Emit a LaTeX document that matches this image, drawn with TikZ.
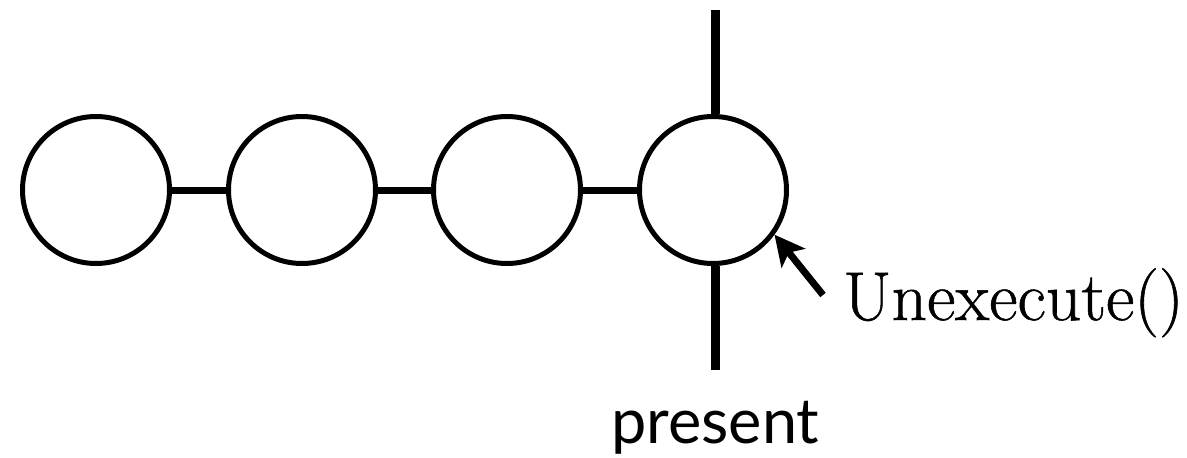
\documentclass[tikz,border=0pt]{standalone}
\usepackage{fontspec}
\newfontfamily\labelsans{Lato}
\newfontfamily\labelserif[FakeBold=0.8]{Latin Modern Roman}
\usetikzlibrary{arrows.meta}
\begin{document}
\begin{tikzpicture}[x=1pt,y=-1pt,
  state/.style={circle,draw,line width=5pt,minimum size=147pt,inner sep=0pt},
  link/.style={line width=7pt},
  pline/.style={line width=9pt},
  pointer/.style={line width=7pt,-{Stealth[length=30pt,width=30pt,inset=7pt]}},
  serifl/.style={inner sep=0pt,anchor=base west,font=\labelserif\fontsize{69}{69}\selectfont},
  sansl/.style={inner sep=0pt,anchor=base west,font=\labelsans\fontsize{63}{63}\selectfont}]
\useasboundingbox (0,0) rectangle (1187,458);
\node[state] (c1) at (96,190) {};
\node[state] (c2) at (302,190) {};
\node[state] (c3) at (507,190) {};
\node[state] (c4) at (713,190) {};
\draw[link] (c1) -- (c2);
\draw[link] (c2) -- (c3);
\draw[link] (c3) -- (c4);
\coordinate (ptop) at (715,9.5);
\coordinate (pbot) at (715,370);
\draw[pline] (ptop) -- (ptop |- c4.north);
\draw[pline] (pbot) -- (pbot |- c4.south);
\node[serifl] (u) at (843,320) {\scalebox{1.01}[1]{Unexecute()}};
\coordinate (tail) at (823,295);
\draw[pointer] (tail) -- (c4.-36);
\node[sansl] (p) at (611,443) {present};
\end{tikzpicture}
\end{document}
